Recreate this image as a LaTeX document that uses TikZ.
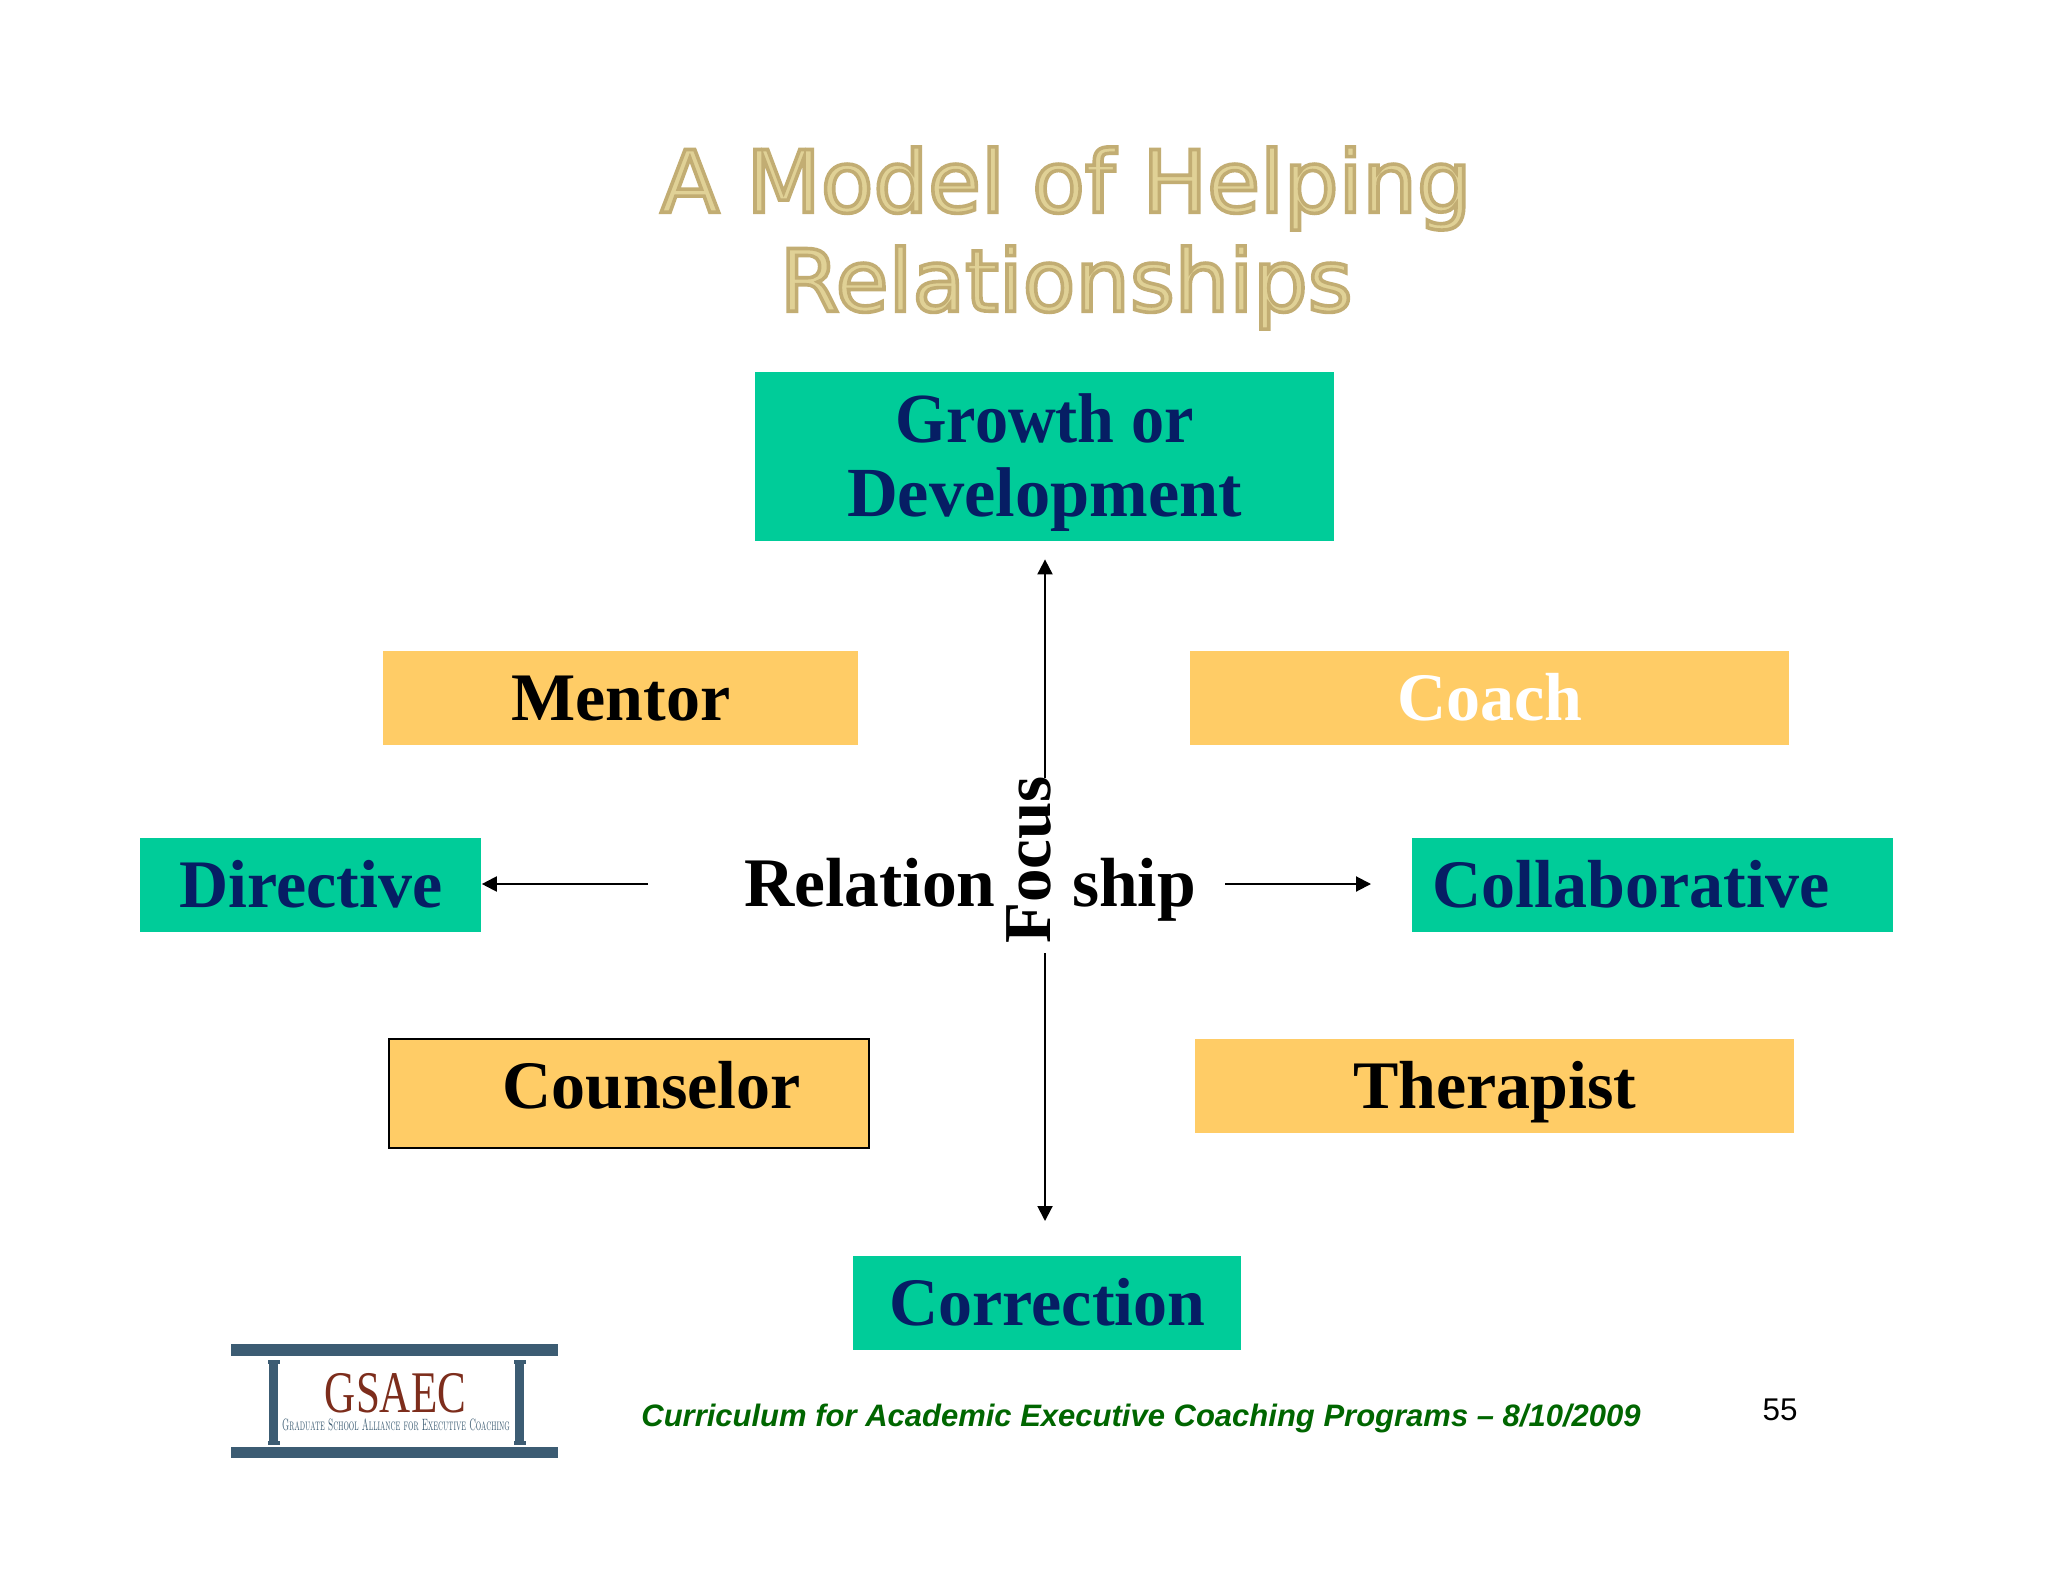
\documentclass[tikz,border=0pt]{standalone}
\usepackage{fontspec}
\usetikzlibrary{arrows.meta}
\newfontfamily\boxfont{Liberation Serif}
\newfontfamily\titlefont{DejaVu Sans}
\newfontfamily\footfont{Liberation Sans}
\definecolor{teal}{RGB}{0,204,153}
\definecolor{peach}{RGB}{255,204,102}
\definecolor{navy}{RGB}{6,30,100}
\definecolor{titlegold}{RGB}{224,209,150}
\definecolor{footgreen}{RGB}{0,102,0}
\definecolor{logoblue}{RGB}{60,92,115}
\definecolor{logored}{RGB}{125,45,28}
\tikzset{
  box/.style={rectangle,inner sep=0pt,anchor=north west,text height=34.6pt,text depth=12.4pt,
    font=\boxfont\bfseries\fontsize{34}{37.3}\selectfont},
  goal/.style={box,fill=teal,text=navy},
  role/.style={box,fill=peach,text=black},
  axis/.style={inner sep=0pt,anchor=base,text=black,font=\boxfont\bfseries\fontsize{34.8}{37.3}\selectfont},
  link/.style={line width=1pt,-{Triangle[length=7.5pt,width=7.5pt]}},
  beam/.style={fill=logoblue,draw=none}
}
\begin{document}
\begin{tikzpicture}[x=0.5pt,y=-0.5pt]
\useasboundingbox (0,0) rectangle (2048,1582);
\fill[white] (0,0) rectangle (2048,1582);

% Title
\node[inner sep=0pt,align=center,text=titlegold,font=\titlefont\fontsize{43}{49.5}\selectfont] (title) at (1066,238)
  {\special{pdf:code 2 Tr 0.76 0.68 0.45 RG 1.8 w}A Model of Helping\\Relationships\special{pdf:code 0 Tr}};

% Boxes
\node[rectangle,inner sep=0pt,fill=teal,text=navy,font=\boxfont\bfseries\fontsize{35.2}{37.3}\selectfont,
  minimum width=289.5pt,minimum height=84.5pt,align=center] (growth) at (1044.5,456.5) {\rule{0pt}{30.6pt}\scalebox{0.94}[1]{Growth or}\\Development};
\node[role,minimum width=237.5pt] (mentor) at (383,651) {Mentor};
\node[role,text=white,minimum width=299.5pt] (coach) at (1190,651) {Coach};
\node[goal,minimum width=170.5pt] (directive) at (140,837.5) {Directive};
\node[goal,minimum width=240.5pt] (collaborative) at (1412,837.5) {Collaborative\hspace*{22pt}};
\node[role,draw=black,line width=0.8pt,text depth=19.9pt,minimum width=240pt] (counselor) at (388,1038) {\hspace*{23pt}Counselor};
\node[role,minimum width=299.5pt] (therapist) at (1195,1039) {Therapist};
\node[goal,minimum width=194pt] (correction) at (853,1256) {Correction};

% Centre labels
\node[axis] (relation) at (870,906.5) {Relation};
\node[axis] (ship) at (1134,906.5) {ship};
\node[axis,rotate=90,font=\boxfont\bfseries\fontsize{33.5}{37}\selectfont] (focus) at (1050,860) {Focus};

% Arrows
\coordinate (ftop) at (1045,778);
\coordinate (fbot) at (1045,953);
\coordinate (rleft) at (648,884);
\coordinate (rright) at (1225,884);
\draw[link,shorten >=9pt] (ftop) -- (growth.south -| ftop);
\draw[link,shorten >=17.5pt] (fbot) -- (correction.north -| fbot);
\draw[link] (rleft) -- (directive.east |- rleft);
\draw[link,shorten >=20.5pt] (rright) -- (collaborative.west |- rright);

% Footer
\node[inner sep=0pt,anchor=base,text=footgreen,font=\footfont\bfseries\itshape\fontsize{15.5}{18}\selectfont] (foot) at (1141,1426) {Curriculum for Academic Executive Coaching Programs – 8/10/2009};
\node[inner sep=0pt,anchor=base,font=\footfont\fontsize{15.7}{18}\selectfont] (page) at (1780,1420) {55};

% Logo
\fill[beam] (231,1344) rectangle (558,1356);
\fill[beam] (231,1447) rectangle (558,1458);
\foreach \cx in {273.5,519.5} {
  \fill[beam] (\cx-4.5,1362) rectangle (\cx+4.5,1443);
  \fill[beam] (\cx-6,1360) rectangle (\cx+6,1364);
  \fill[beam] (\cx-6,1441) rectangle (\cx+6,1445);
}
\node[inner sep=0pt,anchor=base,xscale=0.73,text=logored,font=\boxfont\fontsize{29.5}{32}\selectfont] (gsaec) at (395.5,1412) {GSAEC};
\node[inner sep=0pt,anchor=base,xscale=0.52,text=logoblue,font=\scshape\fontsize{8.2}{9}\selectfont] (alliance) at (396,1430.5) {Graduate School Alliance for Executive Coaching};
\end{tikzpicture}
\end{document}
